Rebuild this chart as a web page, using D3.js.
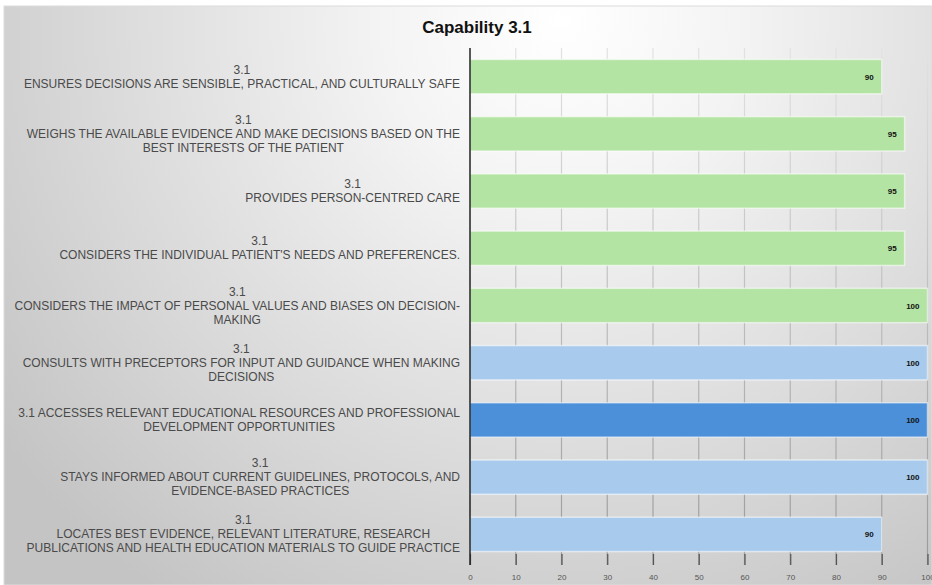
<!DOCTYPE html>
<html>
<head>
<meta charset="utf-8">
<script src="https://cdn.jsdelivr.net/npm/d3@7"></script>
<style>
  body { margin: 0; background: #fff; }
</style>
</head>
<body>
<div id="chart"></div>
<script>
    // labels van boven naar onder, elke regel apart
    var labels = [
        ["3.1", "ENSURES DECISIONS ARE SENSIBLE, PRACTICAL, AND CULTURALLY SAFE"],
        ["3.1", "WEIGHS THE AVAILABLE EVIDENCE AND MAKE DECISIONS BASED ON THE", "BEST INTERESTS OF THE PATIENT"],
        ["3.1", "PROVIDES PERSON-CENTRED CARE"],
        ["3.1", "CONSIDERS THE INDIVIDUAL PATIENT'S NEEDS AND PREFERENCES."],
        ["3.1", "CONSIDERS THE IMPACT OF PERSONAL VALUES AND BIASES ON DECISION-", "MAKING"],
        ["3.1", "CONSULTS WITH PRECEPTORS FOR INPUT AND GUIDANCE WHEN MAKING", "DECISIONS"],
        ["3.1 ACCESSES RELEVANT EDUCATIONAL RESOURCES AND PROFESSIONAL", "DEVELOPMENT OPPORTUNITIES"],
        ["3.1", "STAYS INFORMED ABOUT CURRENT GUIDELINES, PROTOCOLS, AND", "EVIDENCE-BASED PRACTICES"],
        ["3.1", "LOCATES BEST EVIDENCE, RELEVANT LITERATURE, RESEARCH", "PUBLICATIONS AND HEALTH EDUCATION MATERIALS TO GUIDE PRACTICE"]
    ];
    var values = [90, 95, 95, 95, 100, 100, 100, 100, 90];
    var groups = ["green", "green", "green", "green", "green", "lightblue", "blue", "lightblue", "lightblue"];
    var ticks = [0, 10, 20, 30, 40, 50, 60, 70, 80, 90, 100];
    var title = "Capability 3.1";

    var width = 932;
    var height = 585;
    var kleuren = {
        "green": "#b4e4a4",
        "lightblue": "#a8cbed",
        "blue": "#4b90d8"
    };

    var canvas = d3.select("#chart").append("svg")
                    .attr("width", width)
                    .attr("height", height);

    var defs = canvas.append("defs");
    var bg = defs.append("radialGradient")
                .attr("id", "bg")
                .attr("gradientUnits", "userSpaceOnUse")
                .attr("cx", 560).attr("cy", 20).attr("r", 700);
    bg.append("stop").attr("offset", "0%").attr("stop-color", "#ffffff");
    bg.append("stop").attr("offset", "25%").attr("stop-color", "#f4f4f4");
    bg.append("stop").attr("offset", "100%").attr("stop-color", "#c4c4c4");

    var gridkleur = defs.append("linearGradient")
                .attr("id", "grid")
                .attr("gradientUnits", "userSpaceOnUse")
                .attr("x1", 0).attr("y1", 48).attr("x2", 0).attr("y2", 565);
    gridkleur.append("stop").attr("offset", "0%").attr("stop-color", "#e2e2e2");
    gridkleur.append("stop").attr("offset", "100%").attr("stop-color", "#9a9a9a");

    canvas.append("rect")
        .attr("x", 4).attr("y", 6)
        .attr("width", width - 4).attr("height", height - 6)
        .attr("fill", "url(#bg)")
        .attr("stroke", "#dcdcdc");

    var x = d3.scaleLinear().domain([0, 100]).range([470, 927.5]);
    var y = d3.scaleBand()
                .domain(d3.range(labels.length))
                .range([48, 563])
                .paddingInner(0.4)
                .paddingOuter(0.2);

    // rasterlijnen
    canvas.selectAll("line.grid")
        .data(ticks.slice(1))
        .enter()
        .append("line")
        .attr("class", "grid")
        .attr("x1", function(d){ return x(d); })
        .attr("x2", function(d){ return x(d); })
        .attr("y1", 48)
        .attr("y2", 565)
        .attr("stroke", "url(#grid)")
        .attr("stroke-width", 1.2);

    // balken
    canvas.selectAll("rect.bar")
        .data(values)
        .enter()
        .append("rect")
        .attr("class", "bar")
        .attr("x", x(0))
        .attr("y", function(d, i){ return y(i); })
        .attr("width", function(d){ return x(d) - x(0); })
        .attr("height", y.bandwidth())
        .attr("fill", function(d, i){ return kleuren[groups[i]]; })
        .attr("stroke", "rgba(255,255,255,0.55)")
        .attr("stroke-width", 1.5);

    canvas.selectAll("text.val")
        .data(values)
        .enter()
        .append("text")
        .attr("class", "val")
        .text(function(d){ return d; })
        .attr("x", function(d){ return x(d) - 8; })
        .attr("y", function(d, i){ return y(i) + y.bandwidth() / 2 + 3; })
        .attr("text-anchor", "end")
        .attr("font-family", "Liberation Sans, Arial, sans-serif")
        .attr("font-weight", "bold")
        .style("font-size", "8px")
        .attr("fill", "#111");

    // x-as (alleen streepjes en getallen)
    var xAxis = d3.axisBottom(x).tickValues(ticks).tickSize(11).tickSizeOuter(0);
    var ax = canvas.append("g")
        .attr("transform", "translate(0,554)")
        .call(xAxis);
    ax.select(".domain").remove();
    ax.selectAll(".tick line").attr("stroke", "#555").attr("stroke-width", 1.2);
    ax.selectAll(".tick text")
        .attr("y", 20)
        .attr("fill", "#555")
        .attr("font-family", "Liberation Sans, Arial, sans-serif")
        .style("font-size", "8px");

    // y-as lijn
    canvas.append("line")
        .attr("x1", x(0)).attr("x2", x(0))
        .attr("y1", 48).attr("y2", 565)
        .attr("stroke", "#222")
        .attr("stroke-width", 1.5);

    // categorie labels: blok rechts uitgelijnd, regels gecentreerd
    var lineHeight = 14;
    labels.forEach(function(lines, i){
        var cy = y(i) + y.bandwidth() / 2;
        var t = canvas.append("text")
            .attr("font-family", "Liberation Sans, Arial, sans-serif")
            .style("font-size", "12px")
            .attr("fill", "#4a4a4a")
            .attr("text-anchor", "middle");
        var spans = t.selectAll("tspan")
            .data(lines)
            .enter()
            .append("tspan")
            .text(function(d){ return d; })
            .attr("y", function(d, j){
                return cy + (j - (lines.length - 1) / 2) * lineHeight + 4;
            });
        var maxw = 0;
        spans.each(function(){
            maxw = Math.max(maxw, this.getComputedTextLength());
        });
        spans.attr("x", 460 - maxw / 2);
    });

    canvas.append("text")
        .text(title)
        .attr("x", 477)
        .attr("y", 33)
        .attr("text-anchor", "middle")
        .attr("font-family", "Liberation Sans, Arial, sans-serif")
        .attr("font-weight", "bold")
        .style("font-size", "17px")
        .attr("fill", "#111");
</script>
</body>
</html>
